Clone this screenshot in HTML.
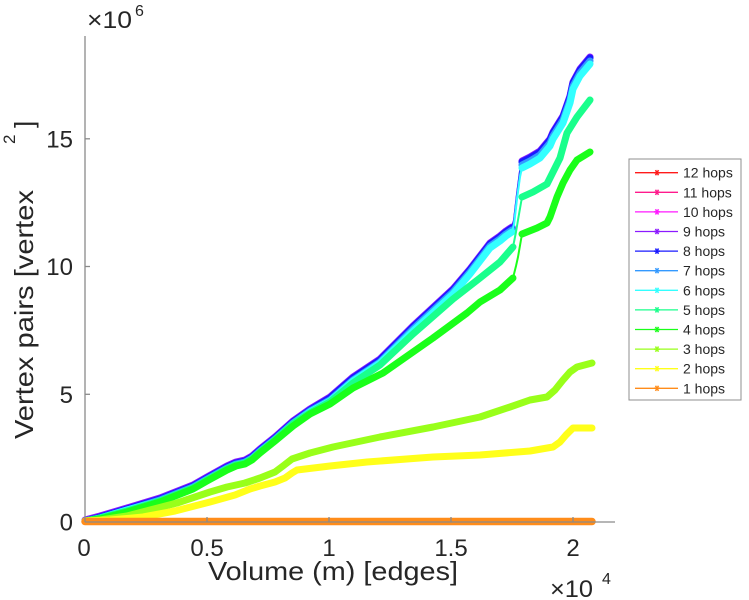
<!DOCTYPE html>
<html><head><meta charset="utf-8"><style>
html,body{margin:0;padding:0;background:#fff;}
svg{display:block;}
text{font-family:"Liberation Sans",Arial,sans-serif;fill:#262626;}
</style></head><body>
<svg width="749" height="600" viewBox="0 0 749 600" xmlns="http://www.w3.org/2000/svg">
<rect width="749" height="600" fill="#fff"/>

<g fill="none" stroke-linejoin="round" stroke-linecap="round">
<!-- 9 hops -->
<polyline stroke="#8c1aff" stroke-width="7" points="85,520 100,516 127,508 160,498 193,485 207,477 227,466 236,462 245,460 252,456 260,449 275,437 293,421 310,409 330,397 353,377 380,359 413,326 453,289 470,269 480,256 490,243 500,236 506,231 512,227"/>
<polyline stroke="#8c1aff" stroke-width="2" points="512,227 514,220 517,194 520,171 522,161"/>
<polyline stroke="#8c1aff" stroke-width="7" points="522,161 530,157 540,151 550,139 553,132 563,116 570,96 573,82 580,69 590,57"/>
<!-- 8 hops -->
<polyline stroke="#1a1aff" stroke-width="7" points="85,521 100,517 127,509 160,499 193,486 207,478 227,467 236,463 245,461 252,457 260,450 275,438 293,422 310,410 330,398 353,378 380,360 413,327 453,290 470,270 480,257 490,244 500,237 506,232 512,228"/>
<polyline stroke="#1a1aff" stroke-width="2" points="512,228 514,221 517,195 520,172 522,162"/>
<polyline stroke="#1a1aff" stroke-width="7" points="522,162 530,158 540,152 550,140 553,133 563,117 570,97 573,83 580,70 590,58"/>
<!-- 7 hops -->
<polyline stroke="#3399ff" stroke-width="7" points="85,521 100,518 127,510 160,500 193,487 207,479 227,468 236,464 245,462 252,458 260,451 275,439 293,423 310,411 330,400 353,380 380,362 413,329 453,292 470,272 480,259 490,246 500,239 506,234 512,230"/>
<polyline stroke="#3399ff" stroke-width="2" points="512,230 514,223 517,197 520,175 522,165"/>
<polyline stroke="#3399ff" stroke-width="7" points="522,165 530,161 540,155 550,143 553,136 563,120 570,100 573,86 580,73 590,61"/>
<!-- 6 hops -->
<polyline stroke="#33ffff" stroke-width="7" points="85,521 100,518 127,510 160,501 193,488 207,480 227,469 236,465 245,463 252,459 260,452 275,440 293,424 310,412 330,401 353,381 380,363 413,331 453,294 470,274 480,261 490,248 500,241 506,236 512,232"/>
<polyline stroke="#33ffff" stroke-width="2" points="512,232 514,225 517,199 520,177 522,168"/>
<polyline stroke="#33ffff" stroke-width="7" points="522,168 530,164 540,158 550,146 553,139 563,123 570,103 573,89 580,76 590,64"/>
<!-- 5 hops -->
<polyline stroke="#1aff8c" stroke-width="7" points="85,521 100,518 127,511 160,501 193,488 207,480 227,469 236,465 245,463 252,459 260,452 275,440 293,424 310,413 330,402 353,383 380,365 413,334 453,299 480,278 500,262 513,247"/>
<polyline stroke="#1aff8c" stroke-width="2" points="513,247 516,232 518,220 522,197"/>
<polyline stroke="#1aff8c" stroke-width="7" points="522,197 533,192 547,184 553,172 560,158 567,133 577,117 590,100"/>
<!-- 4 hops -->
<polyline stroke="#1aff1a" stroke-width="7" points="85,521 100,519 127,512 160,502 193,489 207,481 227,470 236,466 245,464 252,460 260,453 275,441 293,426 310,414 330,404 353,388 383,373 413,352 433,338 467,313 480,302 500,290 513,278"/>
<polyline stroke="#1aff1a" stroke-width="2" points="513,278 516,266 518,257 522,234"/>
<polyline stroke="#1aff1a" stroke-width="7" points="522,234 537,228 547,223 550,217 557,197 563,183 570,170 577,160 590,152"/>
<!-- 3 hops -->
<polyline stroke="#99ff1a" stroke-width="7" points="85,521 100,520 127,516 150,510 177,503 210,492 227,487 245,483 260,478 275,472 283,466 292,459 310,453 333,447 380,437 433,427 480,417 510,407 530,400 547,397 555,390 563,380 570,372 577,367 592,363"/>
<!-- 2 hops -->
<polyline stroke="#ffff1a" stroke-width="7" points="85,521 110,520 143,517 175,511 210,502 235,495 250,489 260,486 275,482 285,478 292,473 297,470 330,466 367,462 433,457 480,455 530,451 553,447 560,442 566,435 573,428 592,428"/>
<!-- 1 hops -->
<polyline stroke="#ff8c1a" stroke-width="7.5" points="85,521.5 592,521.5"/>
</g>

<!-- axes -->
<g stroke="#8a8a8a" stroke-width="1.3">
<line x1="85" y1="36" x2="85" y2="522"/>
<line x1="85" y1="522" x2="615" y2="522"/>
<line x1="207" y1="522" x2="207" y2="517"/>
<line x1="329" y1="522" x2="329" y2="517"/>
<line x1="451" y1="522" x2="451" y2="517"/>
<line x1="573" y1="522" x2="573" y2="517"/>
<line x1="85" y1="394.3" x2="90" y2="394.3"/>
<line x1="85" y1="266.5" x2="90" y2="266.5"/>
<line x1="85" y1="138.8" x2="90" y2="138.8"/>
</g>

<!-- tick labels -->
<g font-size="24" text-anchor="middle">
<text x="84" y="556">0</text>
<text x="207" y="556">0.5</text>
<text x="329" y="556">1</text>
<text x="451" y="556">1.5</text>
<text x="573" y="556">2</text>
</g>
<g font-size="24" text-anchor="end">
<text x="73" y="530.5">0</text>
<text x="73" y="403">5</text>
<text x="73" y="275">10</text>
<text x="73" y="147.5">15</text>
</g>

<!-- exponents -->
<text x="87" y="28" font-size="24" textLength="45" lengthAdjust="spacingAndGlyphs">×10</text>
<text x="135" y="16" font-size="16">6</text>
<text x="550" y="597" font-size="24" textLength="43" lengthAdjust="spacingAndGlyphs">×10</text>
<text x="602" y="584" font-size="16">4</text>

<!-- axis labels -->
<text x="208" y="580" font-size="26" textLength="250" lengthAdjust="spacingAndGlyphs">Volume (m) [edges]</text>
<g transform="translate(33,439) rotate(-90)">
<text x="0" y="0" font-size="26" textLength="249" lengthAdjust="spacingAndGlyphs">Vertex pairs [vertex</text>
<text x="295" y="-18" font-size="17">2</text>
<text x="311" y="0" font-size="26">]</text>
</g>

<!-- legend -->
<rect x="629" y="159" width="112" height="241" fill="#fff" stroke="#8f8f8f" stroke-width="1"/>
<g font-size="14">
<g transform="translate(0,172.7)"><line x1="635" x2="678" y1="0" y2="0" stroke="#ff1a1a" stroke-width="1.3"/><path d="M654,0H660M655.5,-2.6L658.5,2.6M658.5,-2.6L655.5,2.6" stroke="#ff1a1a" stroke-width="1.5"/><text x="683" y="5">12 hops</text></g>
<g transform="translate(0,192.3)"><line x1="635" x2="678" y1="0" y2="0" stroke="#ff1a8c" stroke-width="1.3"/><path d="M654,0H660M655.5,-2.6L658.5,2.6M658.5,-2.6L655.5,2.6" stroke="#ff1a8c" stroke-width="1.5"/><text x="683" y="5">11 hops</text></g>
<g transform="translate(0,211.9)"><line x1="635" x2="678" y1="0" y2="0" stroke="#ff1aff" stroke-width="1.3"/><path d="M654,0H660M655.5,-2.6L658.5,2.6M658.5,-2.6L655.5,2.6" stroke="#ff1aff" stroke-width="1.5"/><text x="683" y="5">10 hops</text></g>
<g transform="translate(0,231.5)"><line x1="635" x2="678" y1="0" y2="0" stroke="#8c1aff" stroke-width="1.3"/><path d="M654,0H660M655.5,-2.6L658.5,2.6M658.5,-2.6L655.5,2.6" stroke="#8c1aff" stroke-width="1.5"/><text x="683" y="5">9 hops</text></g>
<g transform="translate(0,251.1)"><line x1="635" x2="678" y1="0" y2="0" stroke="#1a1aff" stroke-width="1.3"/><path d="M654,0H660M655.5,-2.6L658.5,2.6M658.5,-2.6L655.5,2.6" stroke="#1a1aff" stroke-width="1.5"/><text x="683" y="5">8 hops</text></g>
<g transform="translate(0,270.7)"><line x1="635" x2="678" y1="0" y2="0" stroke="#3399ff" stroke-width="1.3"/><path d="M654,0H660M655.5,-2.6L658.5,2.6M658.5,-2.6L655.5,2.6" stroke="#3399ff" stroke-width="1.5"/><text x="683" y="5">7 hops</text></g>
<g transform="translate(0,290.3)"><line x1="635" x2="678" y1="0" y2="0" stroke="#33ffff" stroke-width="1.3"/><path d="M654,0H660M655.5,-2.6L658.5,2.6M658.5,-2.6L655.5,2.6" stroke="#33ffff" stroke-width="1.5"/><text x="683" y="5">6 hops</text></g>
<g transform="translate(0,309.9)"><line x1="635" x2="678" y1="0" y2="0" stroke="#1aff8c" stroke-width="1.3"/><path d="M654,0H660M655.5,-2.6L658.5,2.6M658.5,-2.6L655.5,2.6" stroke="#1aff8c" stroke-width="1.5"/><text x="683" y="5">5 hops</text></g>
<g transform="translate(0,329.5)"><line x1="635" x2="678" y1="0" y2="0" stroke="#1aff1a" stroke-width="1.3"/><path d="M654,0H660M655.5,-2.6L658.5,2.6M658.5,-2.6L655.5,2.6" stroke="#1aff1a" stroke-width="1.5"/><text x="683" y="5">4 hops</text></g>
<g transform="translate(0,349.1)"><line x1="635" x2="678" y1="0" y2="0" stroke="#99ff1a" stroke-width="1.3"/><path d="M654,0H660M655.5,-2.6L658.5,2.6M658.5,-2.6L655.5,2.6" stroke="#99ff1a" stroke-width="1.5"/><text x="683" y="5">3 hops</text></g>
<g transform="translate(0,368.7)"><line x1="635" x2="678" y1="0" y2="0" stroke="#ffff1a" stroke-width="1.3"/><path d="M654,0H660M655.5,-2.6L658.5,2.6M658.5,-2.6L655.5,2.6" stroke="#ffff1a" stroke-width="1.5"/><text x="683" y="5">2 hops</text></g>
<g transform="translate(0,388.3)"><line x1="635" x2="678" y1="0" y2="0" stroke="#ff8c1a" stroke-width="1.3"/><path d="M654,0H660M655.5,-2.6L658.5,2.6M658.5,-2.6L655.5,2.6" stroke="#ff8c1a" stroke-width="1.5"/><text x="683" y="5">1 hops</text></g>
</g>
</svg>
</body></html>
